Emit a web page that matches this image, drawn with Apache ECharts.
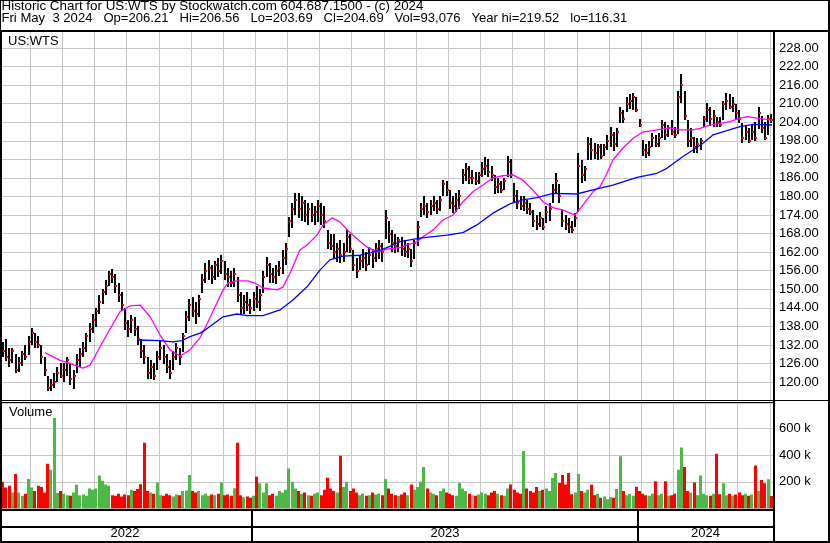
<!DOCTYPE html>
<html>
<head>
<meta charset="utf-8">
<title>US:WTS</title>
<script src="https://cdn.jsdelivr.net/npm/echarts@6/dist/echarts.min.js"></script>
<style>
  html, body { margin: 0; padding: 0; background: #fff; }
  #chart { width: 830px; height: 543px; }
</style>
</head>
<body>
<div id="chart"></div>
<script>
// one bar per slot
const highs = [
  134,133,134,131,131,129,128,130,132,135, 137.5,136,135,132,128,122,121,123,125,126,
  126,128,126,124,129,131,133,136,139,142, 144,148,150,153,156,156.5,155,152,149,144,
  140,141.7,141,138,134,132,128,127,126,130, 133.6,132,129,127,130,132.6,131,136,143,147,
  147.5,146,148,155,158.5,159.5,158,159,160,161, 159,157,156,157,154,149,148,149,147,149,
  151,150,156,160.5,158.5,157,158,159,162.7,165, 173.5,178,181,181,180,179,178,178,177,179,
  178,177,169,168,168,165,166,165,169,168, 162.7,160,161,163,162,163.7,163,165,166,165,
  175.5,172,169,168,167,167,166,165,163,166, 172,178,180,178,179,180,179,180,185.3,185,
  182,180,181,182,189,190.7,190,188.5,188,188, 191,192.7,192,190,187,186,185,186,193,192,
  184.3,182,180,180,179,178,175.6,174,175,173, 177,177.9,184,187.6,184,175.6,174,173,172,174.6,
  194,191.8,190,199.2,199,197.3,197,197,197,200, 202.5,201,202,209,208,212,213,213.4,212,205,
  198.3,197,198,200.5,200,200.5,204.7,204,203,204.7, 202.5,214,219.5,214,204.7,202,199.2,199,199,206,
  210.2,209,208,205.7,205.7,211,213.4,213,212,210, 208,203.7,203,202,203,204,209,206,204,206.5,
  206.56
];
const lows = [
  129,128,127,125,126,123,123,125,127,129, 132,131,131,126,122,117,117,118,120,121,
  120,122,119,118,123,125,128,130,133,136, 138,142,145,148,151,152,149,146,143,137,
  134.5,136,135,132,128,126,121,121,120.6,124, 127,126,123,121,124,127,125.5,130,136,140,
  141,139,141,148.8,152,153,152,153,154,155, 153,151,150.7,151,146,142,142,143,142,143,
  144,143,149,154,152,152,152,154,155,158, 167,170,174,173,172,172,171,172,171,172,
  171,170,163,162.7,160,159,158.5,159,162,161.7, 156,153.6,156,157,156,158,157,159,160,159,
  166,165,162,161.7,162,161,160.5,160,157.2,160, 164,173.4,174,173,174,175,174.6,175,180,180,
  176,174.6,175,176,184,185,184.3,184,183.7,184, 186,187,186.3,185,181,181,181,182,186.3,186,
  178,176,175.6,175,174.6,174,170,169,170,169, 171.4,172,178,181,178,170,169,168,168,170,
  175,184.3,185,191.8,192,192,191.8,192,193,195, 196,195,196,203.7,203.7,207,208,208,207,202.5,
  193,192.4,193,196,196,196,199,198.3,199,200, 199,200,210,204.7,196,196,194,194,195,202.5,
  204,203,202.5,202.5,202.5,205,208,208,207,205, 203.7,197.3,198,197.3,198,198,202,200.5,198.3,200,
  203.69
];
const closes = [
  131,130,128,127,130,124,126,129,128,133, 136,133,132,128,124,118,119,120,123,122,
  124,127,121,122,127,129,131,135,137,140, 143,146,149,151,155,154,151,148,145,139,
  137,140,137,134,130,128,123,125,122,128, 131,128,125,123,128,131,128,135,141,145,
  143,142,147,153,156,157,154,158,156,159, 155,154,152,155,148,144,146,145,144,147,
  146,148,154,158,155,154,156,157,160,163, 172,176,179,176,178,174,176,174,175,177,
  174,172,165,164,162,163,161,162,167,163, 158,156,159,160,158,161,160,163,164,162,
  173,168,165,164,166,163,162,163,159,165, 170,176,177,175,177,178,176,179,184,182,
  178,177,179,180,187,189,186,186,185,187, 189,190,188,187,183,184,182,185,191,187,
  180,178,177,178,176,175,172,171,173,170, 175,176,182,185,180,172,171,170,169,173,
  190,187,189,197,195,194,196,193,196,198, 200,197,201,207,205,210,211,212,208,203,
  195,194,196,199,197,199,203,200,202,201, 200,212,216,206,198,199,196,197,198,205,
  208,205,206,204,203,210,211,209,210,207, 205,199,201,198,201,199,207,202,199,205,
  204.69
];
// thousands of shares
const volumes = [
  246,200,157,170,120,258,120,95,110,220, 157,130,170,160,120,335,290,677,115,130,
  110,100,95,120,177,100,105,95,150,140, 150,246,208,180,170,100,95,110,90,105,
  100,140,130,145,182,492,130,120,110,195, 100,95,110,100,90,105,100,130,135,250,
  130,120,130,100,110,95,105,100,110,195, 100,105,95,152,492,100,85,90,80,95,
  238,188,120,188,100,110,95,130,120,140, 300,200,150,130,110,120,100,95,110,120,
  100,140,230,150,130,120,395,160,200,130, 150,120,100,110,95,100,120,105,110,100,
  220,150,110,100,95,105,120,100,180,140, 160,200,310,150,120,110,100,130,150,120,
  110,100,95,190,150,130,110,100,95,105, 120,110,100,120,130,110,100,95,150,180,
  140,120,110,430,150,130,120,160,130,140, 150,130,228,266,190,250,180,266,106,120,
  258,130,120,140,177,100,110,80,90,70, 85,80,145,390,130,100,110,95,162,130,
  110,100,95,110,203,100,110,203,95,100, 110,290,456,310,130,120,195,100,246,110,
  100,95,110,410,106,188,100,110,95,105, 120,100,110,95,105,322,130,213,188,218,
  93
];
// moving averages: [bar position, price]
const pinkMA = [
  [14.6,129.5],[19.3,127],[22.4,126],[26.4,124.5],[28.6,125.5],[30.2,128.4],[31.7,131.4],
  [37.9,142.7],[41.0,144.6],[44.2,144.9],[47.3,141.1],[50.4,135.2],[53.5,130.4],[56.6,128.4],
  [59.7,130.4],[62.8,134.3],[64.4,137.5],[66.9,143],[70.0,149.8],[71.5,152],[74.3,152.7],
  [77.7,152.7],[79.9,152],[82.4,150.4],[86.8,149.8],[88.6,150.7],[90.8,155.2],[93.9,162.7],
  [96.1,164.3],[99.2,167.5],[101.1,170.8],[103.9,173.1],[106.3,171.8],[108.8,169],[111.6,166.3],
  [114.7,163.7],[117.9,162],[120.9,163],[125.0,163.5],[127.2,164.3],[130.3,165.4],[132.2,167],
  [135.3,169.2],[138.4,172.4],[141.5,174],[144.6,178.3],[147.7,181.5],[150.8,183.7],[153.9,186],
  [157.0,186.7],[160.1,187],[163.2,185.3],[166.3,182.1],[169.5,178.3],[172.6,176.4],[175.7,175.6],
  [179.4,174],[181.9,177.2],[185.0,181.5],[187.2,183.2],[189.4,187.5],[191.2,191.8],[194.3,195.6],
  [197.5,198.8],[200.6,200.9],[203.7,201.3],[205.8,201.7],[209.0,202.2],[212.1,201.5],[216.1,201.5],
  [218.3,202],[221.4,203.1],[224.5,203.6],[227.6,204.2],[230.7,205.3],[232.9,205.8],[236.0,205.3],
  [240.7,204.7]
];
const blueMA = [
  [43.5,133.6],[50.4,133.4],[54.4,133],[57.2,133.4],[59.7,134.7],[62.8,135.8],[64.4,136.8],
  [70.0,141.1],[74.3,142],[77.4,141.5],[82.4,141.5],[87.7,143.3],[91.7,146.5],[96.1,150.8],
  [100.1,156.2],[103.2,159.5],[107.3,160.7],[112.6,161],[118.8,162.6],[122.8,164.3],[125.0,165.4],
  [131.2,166.5],[139.6,167.5],[144.6,168.3],[148.9,170.8],[153.9,174.6],[159.2,177.6],[163.2,178.9],
  [167.6,179.6],[172.6,181],[180.0,180.8],[185.0,182.1],[191.2,183.7],[198.7,186.2],[204.9,187.5],
  [208.0,189.1],[213.0,192.9],[216.1,195],[219.2,197.2],[222.3,199.9],[226.7,201.3],[230.7,202.6],
  [234.8,203.3],[240.7,203.1]
];
const years = ['2022', '2023', '2024'];
const yearFirstBar = [0, 79, 199];

const headerLine1 = 'Historic Chart for US:WTS by Stockwatch.com 604.687.1500 - (c) 2024';
const headerLine2 = 'Fri May  3 2024   Op=206.21   Hi=206.56   Lo=203.69   Cl=204.69   Vol=93,076   Year hi=219.52   lo=116.31';

const FONT = '"Liberation Sans", Arial, sans-serif';
const GRIDCOLOR = '#c8c8c8';
const nBars = closes.length;

const barData = closes.map((c, i) => [i + 0.5, highs[i], lows[i], c]);
const volData = volumes.map((v, i) => {
  const d = i === 0 ? 0 : closes[i] - closes[i - 1];
  return [i, v, d > 0 ? 1 : d < 0 ? -1 : 0];
});
const yearData = years.map((y, k) => [yearFirstBar[k], k + 1 < years.length ? yearFirstBar[k + 1] : nBars]);

function renderOhlc(params, api) {
  const x = api.value(0);
  const hi = api.coord([x, api.value(1)]);
  const lo = api.coord([x, api.value(2)]);
  const cl = api.coord([x, api.value(3)]);
  const cx = Math.round(hi[0]);
  return {
    type: 'group',
    children: [
      { type: 'rect', shape: { x: cx - 1, y: Math.round(hi[1]), width: 2, height: Math.max(2, Math.round(lo[1] - hi[1])) }, style: { fill: '#000' } },
      { type: 'rect', shape: { x: cx, y: Math.round(cl[1]) - 1, width: 2, height: 2 }, style: { fill: '#ff0000' } }
    ]
  };
}

function renderVol(params, api) {
  const i = api.value(0);
  const top = api.coord([i, api.value(1)]);
  const base = api.coord([i, 0]);
  const dir = api.value(2);
  return {
    type: 'rect',
    shape: { x: Math.round(top[0]), y: top[1], width: 3, height: base[1] - top[1] },
    style: { fill: dir > 0 ? '#4db848' : dir < 0 ? '#ff0000' : '#a8a8a8' }
  };
}

function renderYear(params, api) {
  const s = api.value(0), e = api.value(1);
  const a = api.coord([s, 1]);
  const b = api.coord([s, 0]);
  const m = api.coord([(s + e) / 2, 0]);
  const children = [{
    type: 'text', x: m[0], y: m[1] - 1,
    style: { text: years[params.dataIndex], font: '13px ' + FONT, fill: '#000', align: 'center', verticalAlign: 'bottom' }
  }];
  if (s > 0) {
    children.push({ type: 'rect', shape: { x: Math.round(a[0]) - 1, y: a[1], width: 2, height: b[1] - a[1] }, style: { fill: '#000' } });
  }
  return { type: 'group', children };
}

const chart = echarts.init(document.getElementById('chart'));

const xCommon = {
  type: 'value', min: 0, max: nBars, interval: 10,
  axisLine: { show: false }, axisTick: { show: false }, axisLabel: { show: false },
  splitLine: { show: true, lineStyle: { color: GRIDCOLOR, width: 1 } }
};

const option = {
  animation: false,
  backgroundColor: '#fff',
  grid: [
    { left: -2, top: 31, width: 775, height: 369.6, outerBoundsMode: 'none' },
    { left: -2, top: 403, width: 775, height: 105.5, outerBoundsMode: 'none' },
    { left: -2, top: 509, width: 775, height: 32, outerBoundsMode: 'none' }
  ],
  xAxis: [
    Object.assign({ gridIndex: 0 }, xCommon),
    Object.assign({ gridIndex: 1 }, xCommon),
    { gridIndex: 2, type: 'value', min: 0, max: nBars, show: false }
  ],
  yAxis: [
    {
      gridIndex: 0, type: 'value', position: 'right', min: 114, max: 233.5, interval: 6,
      axisLine: { show: false }, axisTick: { show: false },
      axisLabel: {
        margin: 6, color: '#000', fontSize: 13, fontFamily: FONT,
        formatter: v => (v >= 120 && v % 6 === 0) ? v.toFixed(2) : ''
      },
      splitLine: { show: true, lineStyle: { color: GRIDCOLOR, width: 1 } }
    },
    {
      gridIndex: 1, type: 'value', position: 'right', min: 0, max: 789, interval: 200,
      axisLine: { show: false }, axisTick: { show: false },
      axisLabel: {
        margin: 6, color: '#000', fontSize: 13, fontFamily: FONT,
        formatter: v => (v > 0 && v % 200 === 0) ? v + ' k' : ''
      },
      splitLine: { show: true, lineStyle: { color: GRIDCOLOR, width: 1 } }
    },
    { gridIndex: 2, type: 'value', min: 0, max: 1, show: false }
  ],
  series: [
    { type: 'custom', xAxisIndex: 0, yAxisIndex: 0, renderItem: renderOhlc, data: barData, clip: true, z: 2 },
    {
      type: 'line', xAxisIndex: 0, yAxisIndex: 0, data: pinkMA, symbol: 'none', z: 3,
      lineStyle: { color: '#ff00ff', width: 1.3 }
    },
    {
      type: 'line', xAxisIndex: 0, yAxisIndex: 0, data: blueMA, symbol: 'none', z: 3,
      lineStyle: { color: '#0000ff', width: 1.3 }
    },
    { type: 'custom', xAxisIndex: 1, yAxisIndex: 1, renderItem: renderVol, data: volData, clip: true, z: 2 },
    { type: 'custom', xAxisIndex: 2, yAxisIndex: 2, renderItem: renderYear, data: yearData, z: 2 }
  ],
  graphic: [
    // frame
    { type: 'rect', shape: { x: 0, y: 0, width: 830, height: 1 }, style: { fill: '#000' }, z: 100 },
    { type: 'rect', shape: { x: 0, y: 0, width: 1, height: 543 }, style: { fill: '#000' }, z: 100 },
    { type: 'rect', shape: { x: 0, y: 30, width: 2, height: 513 }, style: { fill: '#000' }, z: 100 },
    { type: 'rect', shape: { x: 828, y: 0, width: 2, height: 543 }, style: { fill: '#000' }, z: 100 },
    { type: 'rect', shape: { x: 0, y: 541, width: 830, height: 2 }, style: { fill: '#000' }, z: 100 },
    { type: 'rect', shape: { x: 0, y: 30, width: 830, height: 2 }, style: { fill: '#000' }, z: 100 },
    { type: 'rect', shape: { x: 773, y: 30, width: 2, height: 513 }, style: { fill: '#000' }, z: 100 },
    { type: 'rect', shape: { x: 0, y: 400, width: 830, height: 1 }, style: { fill: '#000' }, z: 100 },
    { type: 'rect', shape: { x: 0, y: 402, width: 773, height: 1 }, style: { fill: '#000' }, z: 100 },
    { type: 'rect', shape: { x: 0, y: 509, width: 773, height: 2 }, style: { fill: '#000' }, z: 100 },
    { type: 'rect', shape: { x: 0, y: 526, width: 773, height: 2 }, style: { fill: '#000' }, z: 100 },
    // texts
    { type: 'text', x: 1.5, y: 6.3, z: 100, style: { text: headerLine1, font: '13.4px ' + FONT, fill: '#000', verticalAlign: 'middle' } },
    { type: 'text', x: 1.5, y: 18.8, z: 100, style: { text: headerLine2, font: '13.1px ' + FONT, fill: '#000', verticalAlign: 'middle' } },
    { type: 'text', x: 8, y: 41, z: 100, style: { text: 'US:WTS', font: '13px ' + FONT, fill: '#000', verticalAlign: 'middle' } },
    { type: 'text', x: 9, y: 412, z: 100, style: { text: 'Volume', font: '13px ' + FONT, fill: '#000', verticalAlign: 'middle' } }
  ]
};

chart.setOption(option);
window.addEventListener('resize', () => chart.resize());
</script>
</body>
</html>
